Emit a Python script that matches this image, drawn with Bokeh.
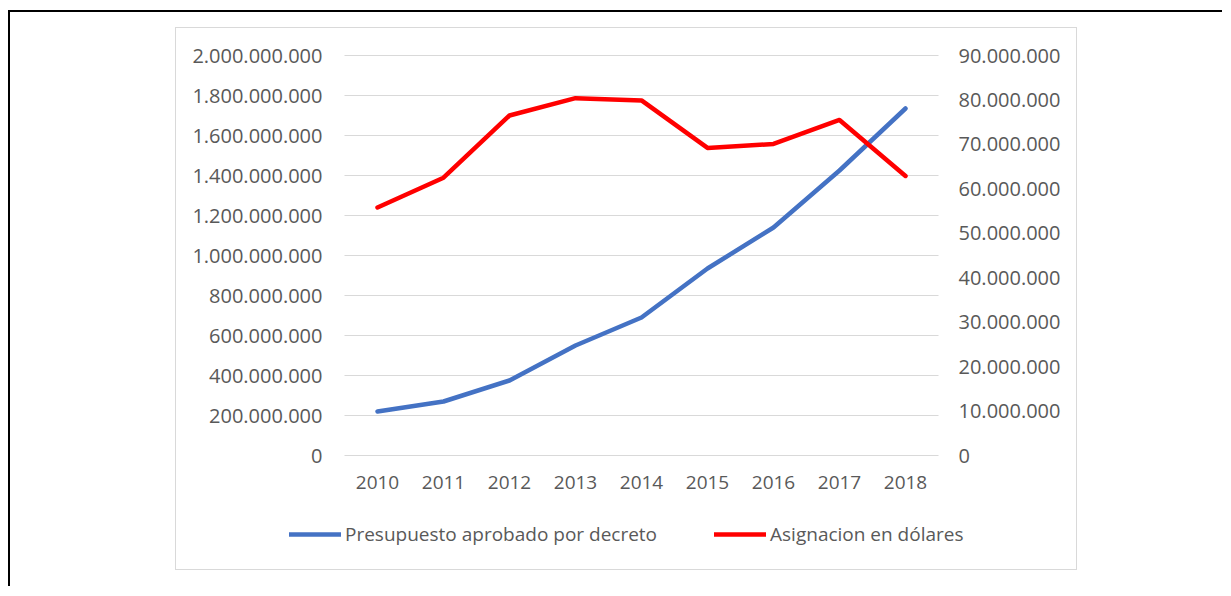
from bokeh.plotting import figure
from bokeh.models import Range1d, LinearAxis, FixedTicker, Legend, LegendItem
from bokeh.layouts import column
from bokeh.embed import file_html
from bokeh.resources import INLINE

years = ["2010", "2011", "2012", "2013", "2014", "2015", "2016", "2017", "2018"]
presupuesto = [220e6, 270e6, 375e6, 550e6, 690e6, 935e6, 1140e6, 1425e6, 1735e6]
asignacion = [55.8e6, 62.5e6, 76.5e6, 80.4e6, 79.9e6, 69.2e6, 70.1e6, 75.5e6, 62.9e6]

left_ticks = [0, 200000000, 400000000, 600000000, 800000000, 1000000000,
              1200000000, 1400000000, 1600000000, 1800000000, 2000000000]
left_labels = ["0", "200.000.000", "400.000.000", "600.000.000", "800.000.000",
               "1.000.000.000", "1.200.000.000", "1.400.000.000", "1.600.000.000",
               "1.800.000.000", "2.000.000.000"]
right_ticks = [0, 10000000, 20000000, 30000000, 40000000, 50000000,
               60000000, 70000000, 80000000, 90000000]
right_labels = ["0", "10.000.000", "20.000.000", "30.000.000", "40.000.000",
                "50.000.000", "60.000.000", "70.000.000", "80.000.000", "90.000.000"]
series_names = ["Presupuesto aprobado por decreto", "Asignacion en dólares"]
series_colors = ["#4472C4", "#FF0000"]

FONT = "Open Sans"
TXT = "#595959"

# layout (pixels) of the chart box and of its plot area
W, H = 900, 541
PA_LEFT, PA_RIGHT, PA_TOP, PA_BOTTOM = 168, 138, 27, 114
PA_W, PA_H = W - PA_LEFT - PA_RIGHT, H - PA_TOP - PA_BOTTOM

n = len(years)
xpos = list(range(n))
cat_px = PA_W / n
x_lo, x_hi = -0.5, n - 0.5
x_range = Range1d(x_lo - PA_LEFT / cat_px, x_hi + PA_RIGHT / cat_px)

def padded(top_value):
    per_px = top_value / PA_H
    return Range1d(-PA_BOTTOM * per_px, top_value + PA_TOP * per_px)

p = figure(width=W, height=H, x_range=x_range, y_range=padded(left_ticks[-1]),
           x_axis_type=None, y_axis_type=None, min_border=0,
           output_backend="svg", toolbar_location=None)
p.extra_y_ranges = {"right": padded(right_ticks[-1])}
p.outline_line_color = None
p.background_fill_color = "white"
p.border_fill_color = "white"
p.grid.visible = False

# horizontal gridlines across the plot area only
p.segment(x0=[x_lo] * len(left_ticks), x1=[x_hi] * len(left_ticks),
          y0=left_ticks, y1=left_ticks, line_color="#D9D9D9", line_width=1)

def style_axis(ax, standoff, fs):
    ax.axis_line_color = None
    ax.major_tick_line_color = None
    ax.minor_tick_line_color = None
    ax.major_tick_out = 0
    ax.major_tick_in = 0
    ax.minor_tick_out = 0
    ax.minor_tick_in = 0
    ax.major_label_text_font = FONT
    ax.major_label_text_font_size = fs
    ax.major_label_text_color = TXT
    ax.major_label_standoff = standoff

yl = LinearAxis(fixed_location=x_lo, ticker=FixedTicker(ticks=left_ticks))
yl.major_label_overrides = dict(zip(left_ticks, left_labels))
style_axis(yl, 22, "20px")
p.add_layout(yl, "left")

yr = LinearAxis(y_range_name="right", fixed_location=x_hi, ticker=FixedTicker(ticks=right_ticks))
yr.major_label_overrides = dict(zip(right_ticks, right_labels))
style_axis(yr, 20, "20px")
p.add_layout(yr, "right")

xa = LinearAxis(fixed_location=0, ticker=FixedTicker(ticks=xpos))
xa.major_label_overrides = dict(zip(xpos, years))
style_axis(xa, 20, "19px")
p.add_layout(xa, "below")

r_blue = p.line(xpos, presupuesto, line_color=series_colors[0], line_width=4.5,
                line_join="round", line_cap="round")
r_red = p.line(xpos, asignacion, line_color=series_colors[1], line_width=4.5,
               line_join="round", line_cap="round", y_range_name="right")

legend = Legend(items=[LegendItem(label=series_names[0], renderers=[r_blue]),
                       LegendItem(label=series_names[1], renderers=[r_red])],
                orientation="horizontal", location=(113, 22),
                glyph_width=52, glyph_height=26, label_standoff=4, spacing=57,
                padding=0, margin=0, border_line_color=None, background_fill_alpha=0,
                label_text_font=FONT, label_text_font_size="19px", label_text_color=TXT)
p.add_layout(legend, "center")

p.styles = {"outline": "1px solid #D9D9D9"}
p.margin = (16, 146, 17, 166)

page = column(p, margin=(10, 0, 0, 8),
              styles={"border-top": "2px solid #000000", "border-left": "2px solid #000000"})

open("out.html", "w").write(file_html(page, INLINE))
